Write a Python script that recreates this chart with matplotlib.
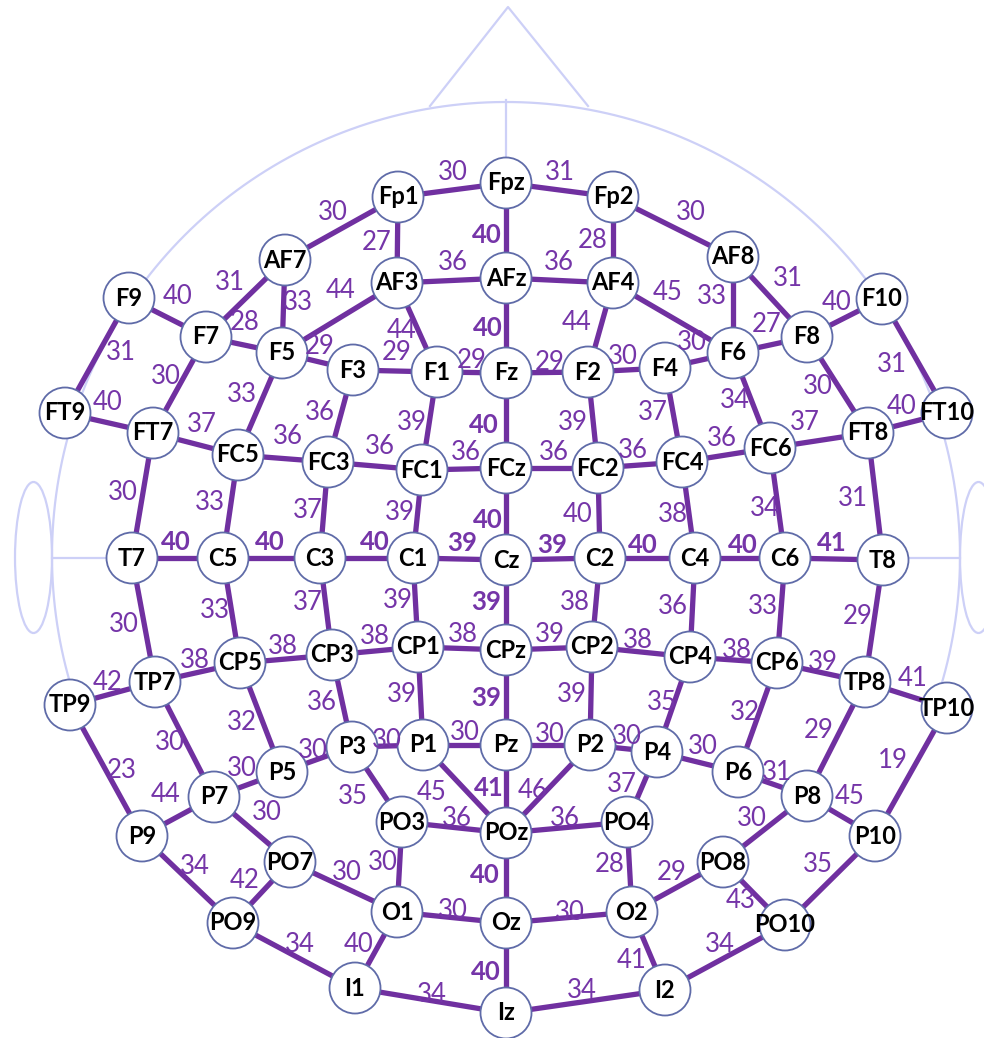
import matplotlib.pyplot as plt
import matplotlib.patches as mpatches
import numpy as np

# electrode names and their positions on the picture (pixels, y down)
names = ["Fp1", "Fpz", "Fp2",
         "AF7", "AF3", "AFz", "AF4", "AF8",
         "F9", "F7", "F5", "F3", "F1", "Fz", "F2", "F4", "F6", "F8", "F10",
         "FT9", "FT7", "FC5", "FC3", "FC1", "FCz", "FC2", "FC4", "FC6", "FT8", "FT10",
         "T7", "C5", "C3", "C1", "Cz", "C2", "C4", "C6", "T8",
         "TP9", "TP7", "CP5", "CP3", "CP1", "CPz", "CP2", "CP4", "CP6", "TP8", "TP10",
         "P9", "P7", "P5", "P3", "P1", "Pz", "P2", "P4", "P6", "P8", "P10",
         "PO9", "PO7", "PO3", "POz", "PO4", "PO8", "PO10",
         "O1", "Oz", "O2",
         "I1", "Iz", "I2"]
node_x = [398, 506, 613,
          285, 397, 506, 613, 733,
          129, 206, 282, 353, 437, 506, 588, 665, 733, 807, 882,
          65, 153, 238, 328, 422, 506, 598, 682, 770, 868, 947,
          132, 223, 320, 413, 506, 600, 695, 785, 883,
          70, 155, 240, 332, 418, 506, 592, 690, 777, 865, 947,
          142, 214, 282, 352, 423, 506, 590, 657, 738, 807, 875,
          233, 290, 402, 506, 627, 723, 785,
          397, 506, 632,
          355, 506, 665]
node_y = [197, 183, 197,
          260, 283, 278, 283, 257,
          298, 337, 353, 370, 372, 373, 372, 368, 353, 337, 299,
          413, 433, 455, 462, 470, 468, 468, 462, 448, 433, 413,
          558, 558, 558, 558, 560, 558, 558, 558, 560,
          705, 682, 663, 655, 647, 650, 647, 657, 663, 682, 708,
          836, 797, 772, 747, 745, 745, 745, 752, 772, 796, 836,
          923, 862, 822, 833, 822, 862, 925,
          912, 923, 912,
          988, 1013, 990]

# connections and inter-electrode distances
edges = [("Fp1", "Fpz", 30), ("Fpz", "Fp2", 31), ("AF7", "Fp1", 30), ("Fp2", "AF8", 30),
         ("Fp1", "AF3", 27), ("Fpz", "AFz", 40), ("Fp2", "AF4", 28),
         ("AF3", "AFz", 36), ("AFz", "AF4", 36),
         ("AF3", "F5", 44), ("AF3", "F1", 44), ("AFz", "Fz", 40), ("AF4", "F2", 44), ("AF4", "F6", 45),
         ("AF7", "F7", 31), ("AF7", "F5", 33), ("AF8", "F6", 33), ("AF8", "F8", 31),
         ("F9", "F7", 40), ("F7", "F5", 28), ("F5", "F3", 29), ("F3", "F1", 29), ("F1", "Fz", 29),
         ("Fz", "F2", 29), ("F2", "F4", 30), ("F4", "F6", 30), ("F6", "F8", 27), ("F8", "F10", 40),
         ("F9", "FT9", 31), ("F7", "FT7", 30), ("F5", "FC5", 33), ("F3", "FC3", 36), ("F1", "FC1", 39),
         ("Fz", "FCz", 40), ("F2", "FC2", 39), ("F4", "FC4", 37), ("F6", "FC6", 34), ("F8", "FT8", 30),
         ("F10", "FT10", 31),
         ("FT9", "FT7", 40), ("FT7", "FC5", 37), ("FC5", "FC3", 36), ("FC3", "FC1", 36), ("FC1", "FCz", 36),
         ("FCz", "FC2", 36), ("FC2", "FC4", 36), ("FC4", "FC6", 36), ("FC6", "FT8", 37), ("FT8", "FT10", 40),
         ("FT7", "T7", 30), ("FC5", "C5", 33), ("FC3", "C3", 37), ("FC1", "C1", 39), ("FCz", "Cz", 40),
         ("FC2", "C2", 40), ("FC4", "C4", 38), ("FC6", "C6", 34), ("FT8", "T8", 31),
         ("T7", "C5", 40), ("C5", "C3", 40), ("C3", "C1", 40), ("C1", "Cz", 39), ("Cz", "C2", 39),
         ("C2", "C4", 40), ("C4", "C6", 40), ("C6", "T8", 41),
         ("T7", "TP7", 30), ("C5", "CP5", 33), ("C3", "CP3", 37), ("C1", "CP1", 39), ("Cz", "CPz", 39),
         ("C2", "CP2", 38), ("C4", "CP4", 36), ("C6", "CP6", 33), ("T8", "TP8", 29),
         ("TP9", "TP7", 42), ("TP7", "CP5", 38), ("CP5", "CP3", 38), ("CP3", "CP1", 38), ("CP1", "CPz", 38),
         ("CPz", "CP2", 39), ("CP2", "CP4", 38), ("CP4", "CP6", 38), ("CP6", "TP8", 39), ("TP8", "TP10", 41),
         ("TP9", "P9", 23), ("TP7", "P7", 30), ("CP5", "P5", 32), ("CP3", "P3", 36), ("CP1", "P1", 39),
         ("CPz", "Pz", 39), ("CP2", "P2", 39), ("CP4", "P4", 35), ("CP6", "P6", 32), ("TP8", "P8", 29),
         ("TP10", "P10", 19),
         ("P9", "P7", 44), ("P7", "P5", 30), ("P5", "P3", 30), ("P3", "P1", 30), ("P1", "Pz", 30),
         ("Pz", "P2", 30), ("P2", "P4", 30), ("P4", "P6", 30), ("P6", "P8", 31), ("P8", "P10", 45),
         ("P7", "PO7", 30), ("P3", "PO3", 35), ("P1", "POz", 45), ("Pz", "POz", 41), ("P2", "POz", 46),
         ("P4", "PO4", 37), ("P8", "PO8", 30), ("P9", "PO9", 34), ("PO7", "PO9", 42),
         ("PO3", "POz", 36), ("POz", "PO4", 36), ("PO8", "PO10", 43), ("P10", "PO10", 35),
         ("PO7", "O1", 30), ("PO3", "O1", 30), ("POz", "Oz", 40), ("PO4", "O2", 28), ("PO8", "O2", 29),
         ("O1", "Oz", 30), ("Oz", "O2", 30),
         ("PO9", "I1", 34), ("O1", "I1", 40), ("Oz", "Iz", 40), ("O2", "I2", 41), ("PO10", "I2", 34),
         ("I1", "Iz", 34), ("Iz", "I2", 34)]

# where each distance label sits (same order as edges)
label_xy = [(453, 172), (560, 173), (333, 213), (691, 212),
            (377, 243), (487, 235), (593, 240),
            (453, 263), (559, 262),
            (341, 290), (402, 330), (488, 328), (577, 322), (668, 293),
            (230, 283), (298, 303), (712, 297), (788, 278),
            (178, 297), (245, 323), (320, 346), (397, 353), (472, 360),
            (550, 362), (623, 357), (692, 342), (767, 325), (837, 302),
            (121, 352), (166, 377), (242, 395), (320, 412), (412, 423),
            (484, 425), (573, 422), (653, 412), (735, 400), (818, 387),
            (892, 365),
            (108, 403), (202, 425), (288, 437), (380, 447), (466, 452),
            (554, 453), (633, 450), (722, 438), (805, 423), (902, 407),
            (123, 493), (210, 502), (308, 510), (400, 513), (488, 520),
            (578, 515), (673, 515), (765, 508), (853, 498),
            (176, 542), (270, 542), (375, 542), (462, 543), (552, 545),
            (643, 545), (743, 545), (832, 543),
            (124, 625), (215, 610), (308, 603), (398, 600), (486, 602),
            (575, 602), (673, 607), (763, 607), (858, 617),
            (108, 683), (195, 660), (283, 647), (375, 637), (463, 635),
            (550, 635), (638, 640), (737, 650), (823, 662), (913, 678),
            (122, 770), (170, 743), (242, 723), (322, 703), (402, 695),
            (486, 698), (572, 695), (662, 702), (745, 712), (819, 730),
            (893, 760),
            (166, 795), (242, 768), (313, 750), (387, 740), (465, 733),
            (550, 735), (627, 737), (703, 747), (777, 772), (850, 797),
            (267, 813), (353, 797), (432, 792), (489, 788), (533, 790),
            (622, 785), (752, 818), (195, 867), (245, 880),
            (457, 818), (565, 818), (741, 900), (818, 865),
            (347, 873), (383, 862), (485, 875), (610, 865), (672, 873),
            (453, 910), (570, 912),
            (300, 945), (359, 945), (486, 972), (632, 960), (720, 945),
            (432, 995), (582, 990)]

# midline and central row labels are bold
bold_names = {"Fpz", "AFz", "Fz", "FCz", "Cz", "CPz", "Pz", "POz", "Oz", "Iz"}
c_row = {"T7", "C5", "C3", "C1", "Cz", "C2", "C4", "C6", "T8"}

line_col = "#7030A0"
text_col = "#7535A8"
head_col = "#CDD0F7"
ring_col = "#5F6BA8"
pos = {n: (x, y) for n, x, y in zip(names, node_x, node_y)}

fig = plt.figure(figsize=(9.84, 10.38), dpi=100)
ax = fig.add_axes([0, 0, 1, 1])
ax.set_xlim(0, 984)
ax.set_ylim(1038, 0)
ax.axis("off")

# head outline
cx, cy, r = 506, 556, 454
t = np.radians(np.linspace(-19, 199, 400))
ax.plot(cx + r*np.cos(t), cy - r*np.sin(t), color=head_col, lw=1.6, zorder=1)
ax.plot([430, 508, 588], [106, 7, 106], color=head_col, lw=1.6, zorder=1)
ax.plot([506, 506], [100, 183], color=head_col, lw=1.6, zorder=1)
ax.plot([52, 132], [558, 558], color=head_col, lw=1.6, zorder=1)
ax.plot([883, 960], [558, 558], color=head_col, lw=1.6, zorder=1)
for ex in (33.5, 978.5):
    ax.add_patch(mpatches.Ellipse((ex, 557.5), 37, 151, fill=False,
                                  edgecolor=head_col, lw=1.6, zorder=1))

# connections + labels
for (a, b, v), (lx, ly) in zip(edges, label_xy):
    xa, ya = pos[a]
    xb, yb = pos[b]
    ax.plot([xa, xb], [ya, yb], color=line_col, lw=3.8, solid_capstyle="butt", zorder=2)
    bold = (a in bold_names and b in bold_names and xa == xb) or (a in c_row and b in c_row)
    ax.text(lx, ly, str(v), color=text_col, fontsize=18.5, family="Lato",
            fontweight="bold" if bold else "normal", ha="center", va="center", zorder=5)

# electrodes
for n in names:
    x, y = pos[n]
    ax.add_patch(mpatches.Circle((x, y), 25.5, facecolor="white", edgecolor=ring_col,
                                 lw=1.3, zorder=3))
    ax.text(x, y, n, fontsize=17, family="Lato", fontweight="bold", color="black",
            ha="center", va="center", zorder=4)

fig.savefig("out.png", dpi=100)
